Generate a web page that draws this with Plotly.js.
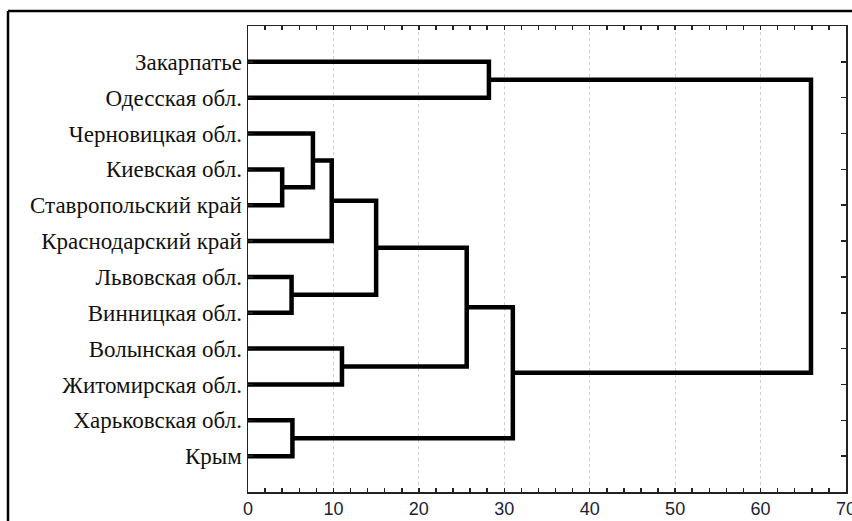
<!DOCTYPE html>
<html>
<head>
<meta charset="utf-8">
<script src="https://cdn.plot.ly/plotly-3.0.1.min.js"></script>
<style>
html,body{margin:0;padding:0;background:#fff;}
#chart{width:852px;height:521px;}
</style>
</head>
<body>
<div id="chart"></div>
<script>
// Leaves (top to bottom)
const leaves = ['Закарпатье', 'Одесская обл.', 'Черновицкая обл.', 'Киевская обл.',
  'Ставропольский край', 'Краснодарский край', 'Львовская обл.', 'Винницкая обл.',
  'Волынская обл.', 'Житомирская обл.', 'Харьковская обл.', 'Крым'];
// Merges: ids 0..11 are leaves, merge k creates cluster id 12+k
const mergeA = [3, 2, 13, 6, 14, 8, 16, 10, 18, 0, 21];
const mergeB = [4, 12, 5, 7, 15, 9, 17, 11, 19, 1, 20];
const mergeHeight = [4.0, 7.6, 9.8, 5.1, 15.0, 11.0, 25.6, 5.2, 31.0, 28.2, 65.9];
const xTicks = [0, 10, 20, 30, 40, 50, 60, 70];

// compute node positions
const pos = leaves.map((_, i) => i + 1);
const hgt = leaves.map(() => 0);
const xs = [], ys = [];
for (let k = 0; k < mergeA.length; k++) {
  const a = mergeA[k], b = mergeB[k], h = mergeHeight[k];
  xs.push(hgt[a], h, h, hgt[b], null);
  ys.push(pos[a], pos[a], pos[b], pos[b], null);
  pos.push((pos[a] + pos[b]) / 2);
  hgt.push(h);
}

const trace = {
  type: 'scatter', mode: 'lines', x: xs, y: ys,
  line: {color: '#000', width: 4.5}, hoverinfo: 'skip', showlegend: false,
  cliponaxis: false
};

const L = 248, R = 6, T = 26, B = 29, W = 852, H = 521;
const pw = W - L - R, ph = H - T - B;
const fx = (8 - L) / pw, fy = 1 + (T - 11) / ph;

const layout = {
  width: W, height: H,
  margin: {l: L, r: R, t: T, b: B, pad: 0},
  paper_bgcolor: '#fff', plot_bgcolor: '#fff',
  showlegend: false,
  xaxis: {
    range: [0, 70], tickvals: xTicks, ticktext: xTicks.map(String),
    ticks: 'inside', ticklen: 4, tickcolor: '#222', tickwidth: 1.5,
    minor: {dtick: 2, ticks: 'inside', ticklen: 4, tickcolor: '#222', tickwidth: 1.5, showgrid: false},
    showline: true, linecolor: '#222', linewidth: 1.5, mirror: 'allticks',
    showgrid: true, gridcolor: '#cfcfcf', griddash: 'dot', gridwidth: 1,
    zeroline: false, ticklabeloverflow: 'allow',
    tickfont: {family: 'Liberation Sans Narrow, Liberation Sans, Arial, sans-serif', size: 18, color: '#1c2233'}
  },
  yaxis: {
    range: [13, 0], tickvals: leaves.map((_, i) => i + 1), ticktext: leaves,
    ticks: 'inside', ticklen: 5, tickcolor: '#222', tickwidth: 1.5,
    showline: true, linecolor: '#222', linewidth: 1.5, mirror: 'ticks',
    showgrid: false, zeroline: false, ticklabelstandoff: 0,
    tickfont: {family: 'Liberation Serif, Times New Roman, serif', size: 23, color: '#111'}
  },
  shapes: [
    {type: 'line', xref: 'paper', yref: 'paper', x0: fx, x1: fx, y0: -0.2, y1: fy,
     line: {color: '#000', width: 2.5}},
    {type: 'line', xref: 'paper', yref: 'paper', x0: fx, x1: 1.2, y0: fy, y1: fy,
     line: {color: '#000', width: 2.5}}
  ]
};

Plotly.newPlot('chart', [trace], layout, {displayModeBar: false, staticPlot: true});
</script>
</body>
</html>
